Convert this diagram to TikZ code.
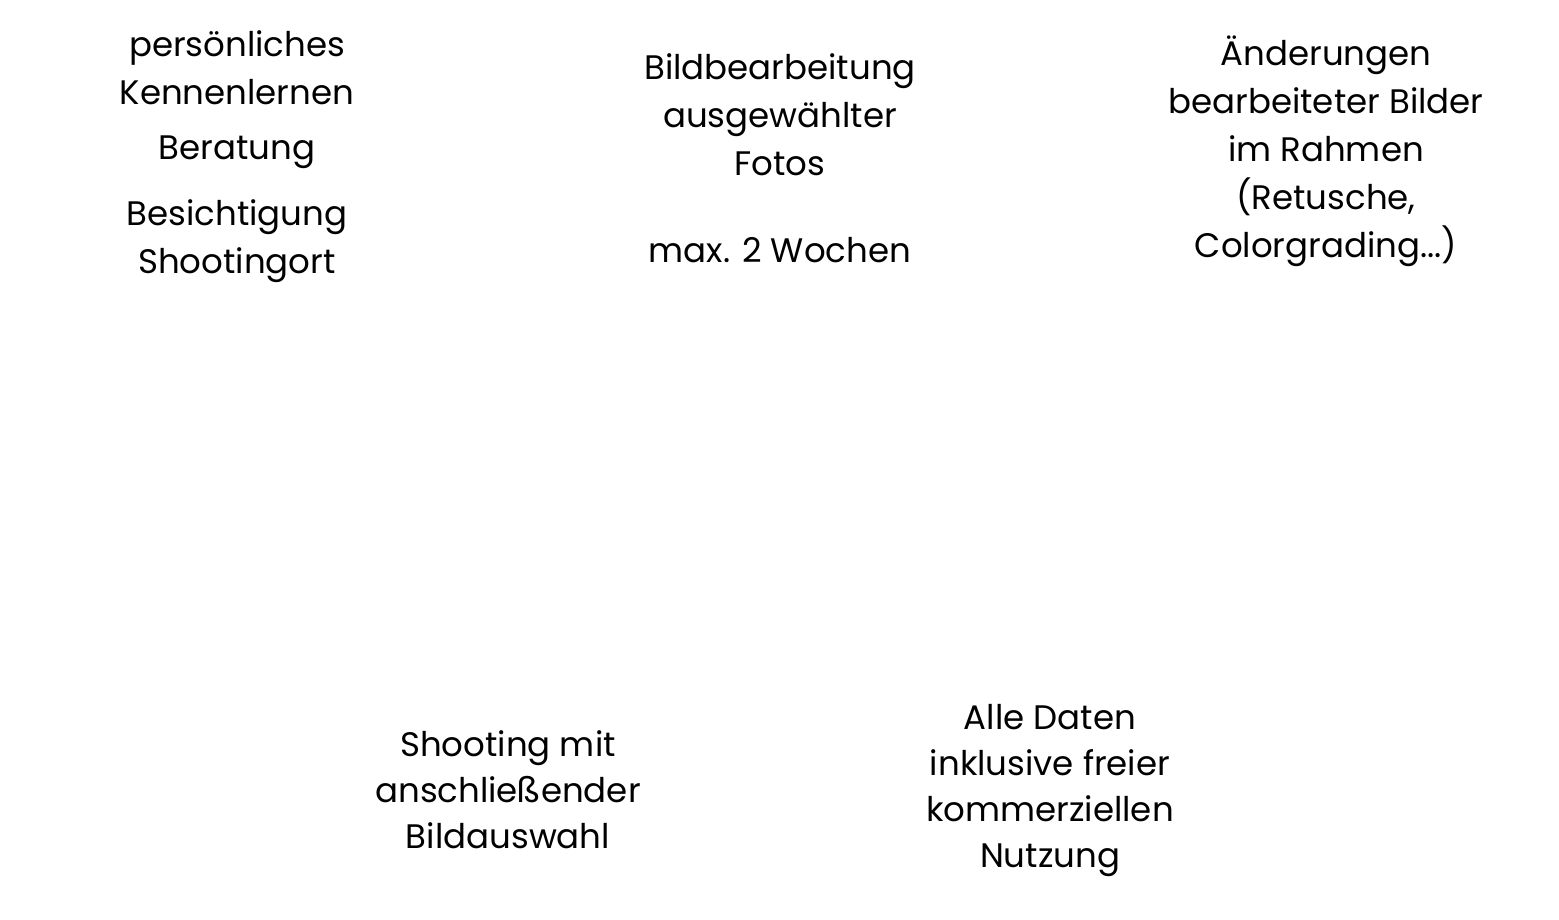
\documentclass[tikz,border=0pt]{standalone}
\usepackage{fontspec}
\setmainfont{Poppins}
\begin{document}
\begin{tikzpicture}[x=1pt,y=-1pt,
  t/.style={align=center,inner sep=0pt,font=\fontsize{34}{48}\selectfont},
  tb/.style={align=center,inner sep=0pt,font=\fontsize{34}{46}\selectfont}]
\useasboundingbox (0,0) rectangle (1559,919);
\node[t] (a1) at (237,68) {persönliches\\Kennenlernen};
\node[t] (a2) at (237,152) {Beratung};
\node[t] (a3) at (237,241) {Besichtigung\\Shootingort};
\node[t] (b1) at (780,115) {Bildbearbeitung\\ausgewählter\\Fotos};
\node[t] (b2) at (780,250) {max. 2 Wochen};
\node[t] (c1) at (1326,151) {Änderungen\\bearbeiteter Bilder\\im Rahmen\\(Retusche,\\Colorgrading...)};
\node[tb] (d1) at (508,790) {Shooting mit\\anschließender\\Bildauswahl};
\node[tb] (e1) at (1050,790) {Alle Daten\\inklusive freier\\kommerziellen\\Nutzung};
\end{tikzpicture}
\end{document}
